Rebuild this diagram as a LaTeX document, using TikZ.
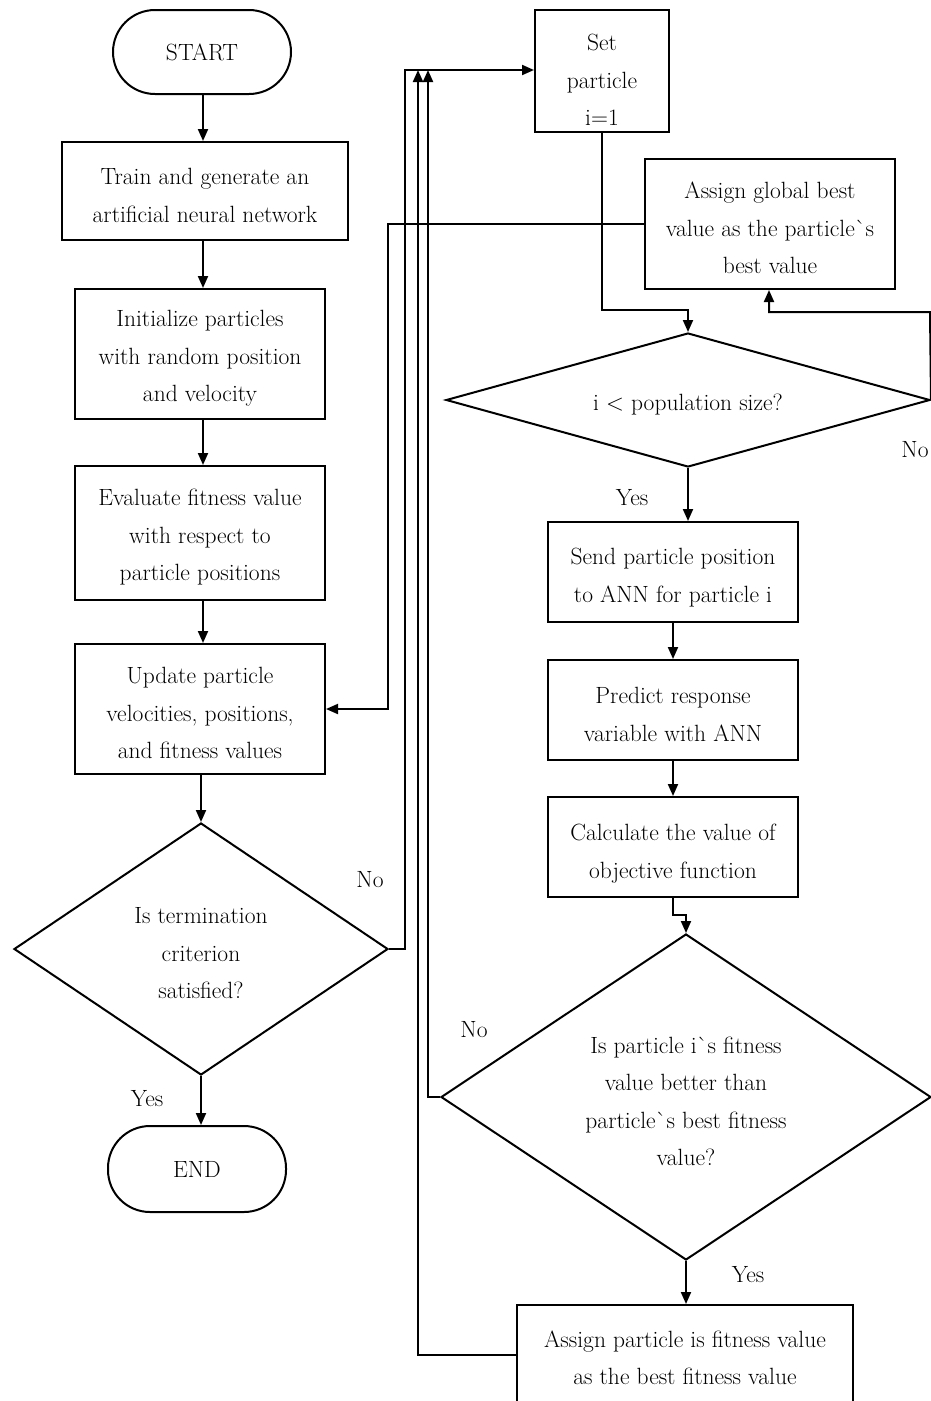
\documentclass[tikz,border=0pt]{standalone}
\usetikzlibrary{shapes.geometric,arrows.meta}
% a tall strut on the first line sets the text a little below the centre
\newcommand\firststrut[1][25pt]{\rule{0pt}{#1}}
\begin{document}
\begin{tikzpicture}[x=1pt,y=-1pt,
  every node/.style={font=\fontsize{23.5}{37.5}\selectfont},
  box/.style={draw,line width=2pt,rectangle,inner sep=0pt,align=center},
  term/.style={draw,line width=2pt,rectangle,inner sep=0pt,rounded corners=42pt},
  decision/.style={draw,line width=2pt,diamond,inner sep=0pt,align=center},
  flow/.style={line width=2pt,-{Triangle[length=12pt,width=10pt]}}]
\useasboundingbox (0,0) rectangle (930,1401);

% main loop (left column)
\node[term,minimum width=178pt,minimum height=84pt] (start) at (202,52) {START};
\node[box,minimum width=286pt,minimum height=98pt] (train) at (205,191)
  {\firststrut Train and generate an\\artificial neural network};
\node[box,minimum width=250pt,minimum height=130pt] (init) at (200,354)
  {\firststrut Initialize particles\\with random position\\and velocity};
\node[box,minimum width=250pt,minimum height=134pt] (eval) at (200,533)
  {\firststrut Evaluate fitness value\\with respect to\\particle positions};
\node[box,minimum width=250pt,minimum height=130pt] (update) at (200,709)
  {\firststrut Update particle\\velocities, positions,\\and fitness values};
\node[decision,aspect=1.47,minimum width=374pt,minimum height=252pt] (term) at (201,949)
  {\firststrut Is termination\\criterion\\satisfied?};
\node[term,minimum width=178pt,minimum height=86pt] (end) at (197,1169) {END};

% particle loop (right column)
\node[box,minimum width=134pt,minimum height=122pt] (set) at (602,71)
  {\firststrut[34pt]Set\\particle\\i=1};
\node[box,minimum width=250pt,minimum height=130pt] (gbest) at (770,224)
  {\firststrut Assign global best\\value as the particle\textasciigrave s\\best value};
\node[decision,aspect=3.6,minimum width=484pt,minimum height=134pt] (pop) at (688,400)
  {\firststrut i < population size?};
\node[box,minimum width=250pt,minimum height=100pt] (send) at (673,572)
  {\firststrut[28pt]Send particle position\\to ANN for particle i};
\node[box,minimum width=250pt,minimum height=100pt] (pred) at (673,710)
  {\firststrut Predict response\\variable with ANN};
\node[box,minimum width=250pt,minimum height=100pt] (calc) at (673,847)
  {\firststrut[30pt]Calculate the value of\\objective function};
\node[decision,aspect=1.5,minimum width=490pt,minimum height=326pt] (better) at (686,1097)
  {\firststrut Is particle i\textasciigrave s fitness\\value better than\\particle\textasciigrave s best fitness\\value?};
\node[box,minimum width=336pt,minimum height=100pt] (pbest) at (685,1355)
  {\firststrut[22pt]Assign particle is fitness value\\as the best fitness value};

% branch labels
\node at (370,880) {No};
\node at (147,1099) {Yes};
\node at (632,498) {Yes};
\node at (915,450) {No};
\node at (474,1030) {No};
\node at (748,1275) {Yes};

% junction points on the line into the particle loop
\coordinate (jA) at (428,70);
\coordinate (jB) at (418,70);

% left column flow
\draw[flow] (203,0 |- start.south) -- (203,0 |- train.north);
\draw[flow] (203,0 |- train.south) -- (203,0 |- init.north);
\draw[flow] (203,0 |- init.south) -- (203,0 |- eval.north);
\draw[flow] (203,0 |- eval.south) -- (203,0 |- update.north);
\draw[flow] (term.north |- update.south) -- (term.north);
\draw[flow] (term.south) -- (term.south |- end.north);
\draw[flow] (term.east) -- (405,949) -- (405,70) -- (set.west |- 0,70);

% right column flow
\draw[flow] (set.south) -- (602,310) -- (pop.north |- 0,310) -- (pop.north);
\draw[flow] (pop.east) -- (930,312) -- (769,312) -- (769,0 |- gbest.south);
\draw[flow] (gbest.west) -- (388,224) -- (388,709) -- (update.east);
\draw[flow] (pop.south) -- (pop.south |- send.north);
\draw[flow] (send.south) -- (pred.north);
\draw[flow] (pred.south) -- (calc.north);
\draw[flow] (calc.south) -- (673,915) -- (better.north |- 0,915) -- (better.north);
\draw[flow] (better.west) -- (428,1097) -- (jA);
\draw[flow] (better.south) -- (better.south |- pbest.north);
\draw[flow] (pbest.west) -- (418,1355) -- (jB);
\end{tikzpicture}
\end{document}
